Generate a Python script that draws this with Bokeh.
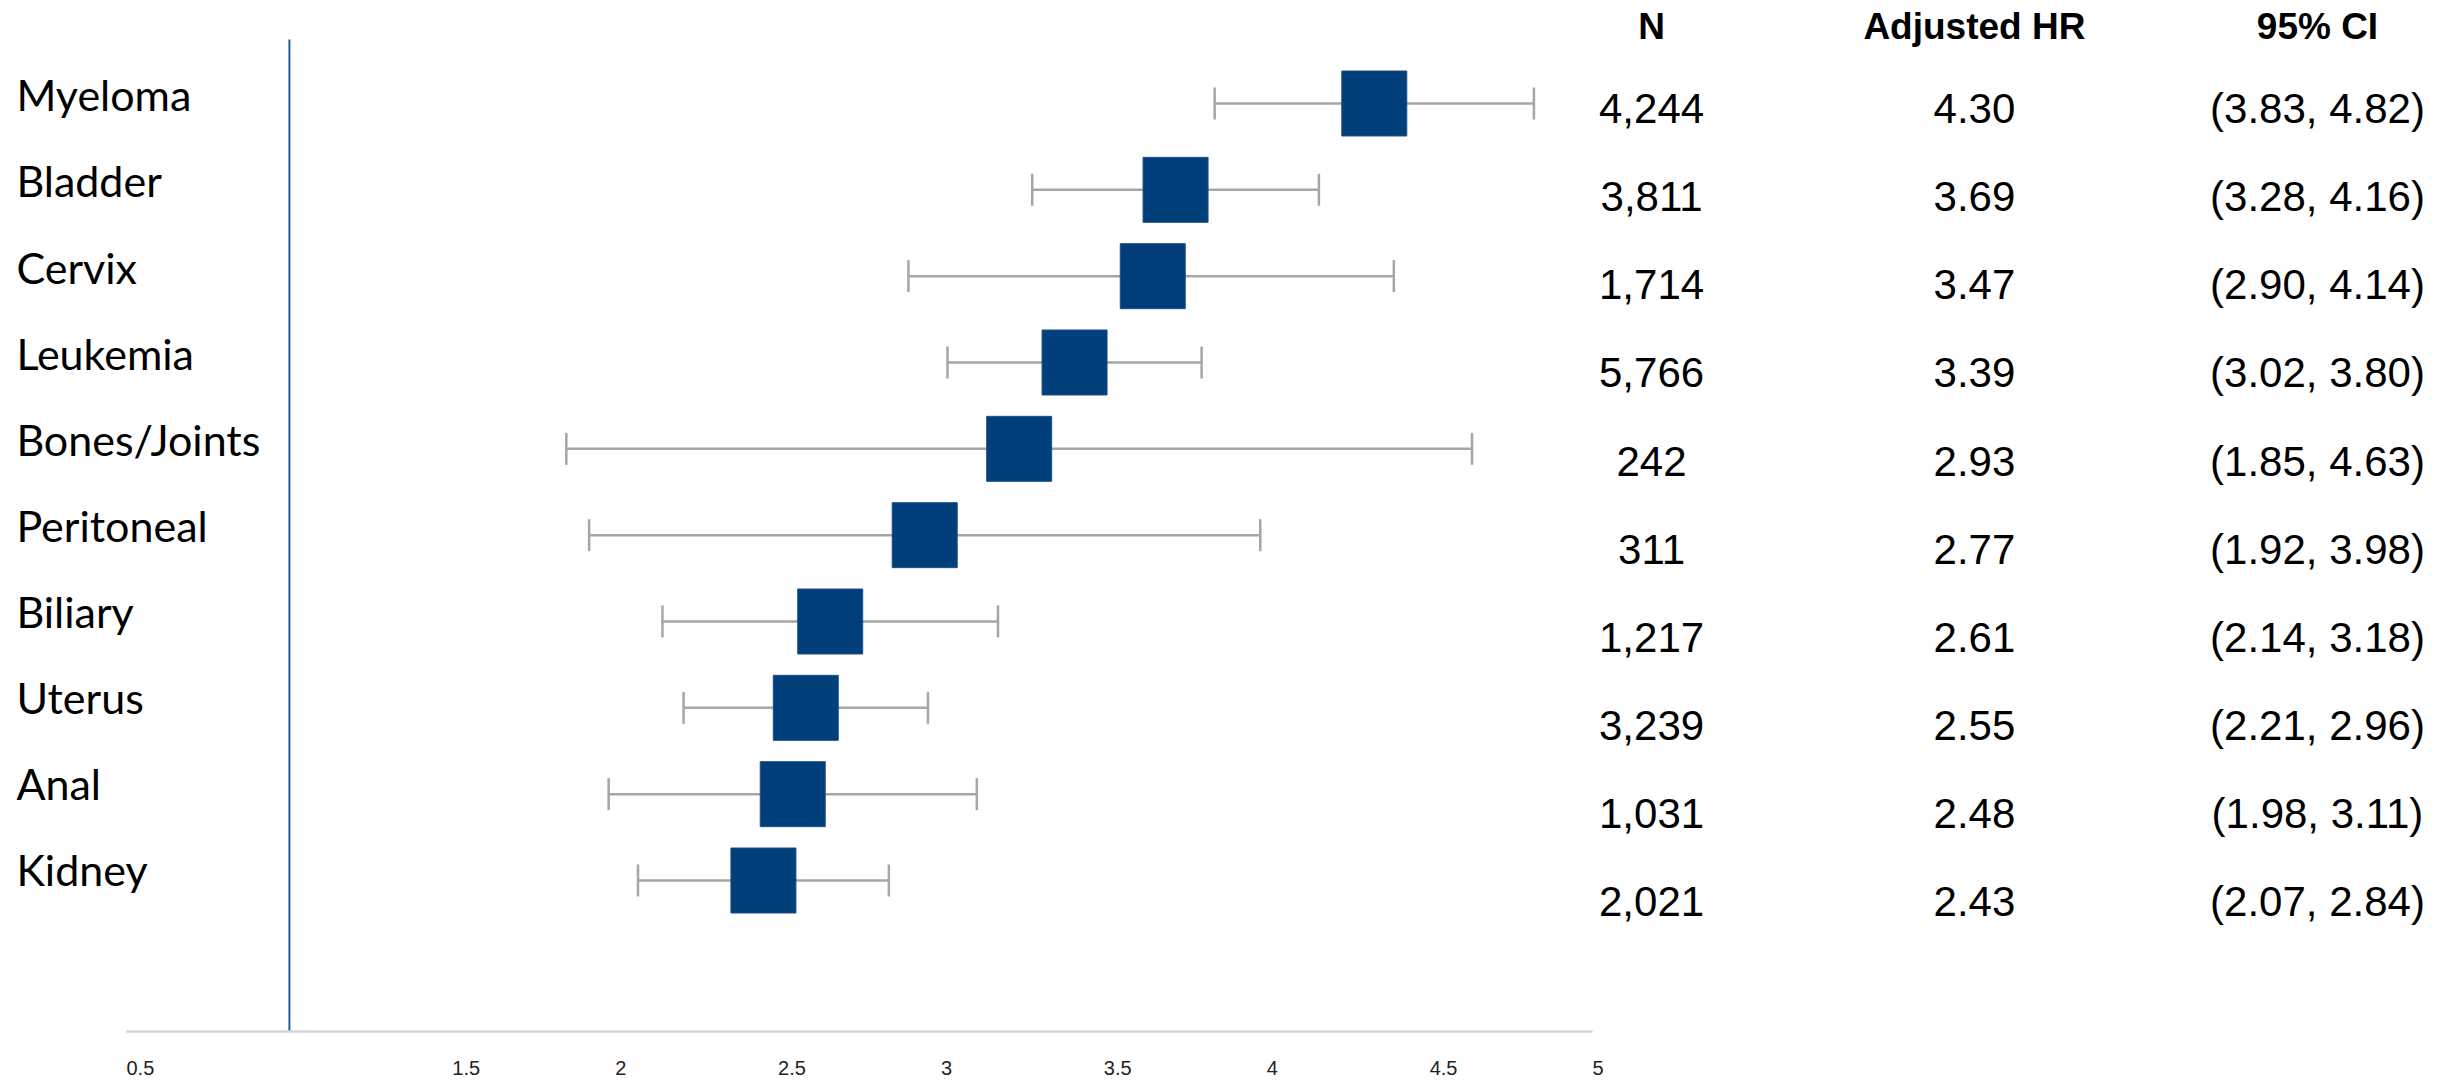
from bokeh.plotting import figure
from bokeh.models import Range1d, FixedTicker, ColumnDataSource
from bokeh.core.properties import value
from bokeh.embed import file_html
from bokeh.resources import INLINE
import numpy as np

# ---- data: table columns (as printed) ----
cancers = ["Myeloma", "Bladder", "Cervix", "Leukemia", "Bones/Joints",
           "Peritoneal", "Biliary", "Uterus", "Anal", "Kidney"]
n_text = ["4,244", "3,811", "1,714", "5,766", "242", "311", "1,217", "3,239", "1,031", "2,021"]
hr_table = [4.30, 3.69, 3.47, 3.39, 2.93, 2.77, 2.61, 2.55, 2.48, 2.43]
ci_lo_table = [3.83, 3.28, 2.90, 3.02, 1.85, 1.92, 2.14, 2.21, 1.98, 2.07]
ci_hi_table = [4.82, 4.16, 4.14, 3.80, 4.63, 3.98, 3.18, 2.96, 3.11, 2.84]

# ---- data: plotted marks ----
plot_est = [4.33, 3.72, 3.65, 3.41, 3.24, 2.95, 2.66, 2.585, 2.545, 2.455]
plot_lo = [3.84, 3.28, 2.90, 3.02, 1.85, 1.92, 2.145, 2.21, 1.98, 2.07]
plot_hi = [4.82, 4.16, 4.39, 3.80, 4.63, 3.98, 3.175, 2.96, 3.11, 2.84]

headers = ["N", "Adjusted HR", "95% CI"]
ticks = [0.5, 1.5, 2, 2.5, 3, 3.5, 4, 4.5, 5]
tick_labels = ["0.5", "1.5", "2", "2.5", "3", "3.5", "4", "4.5", "5"]
ref_line = 1.0

# ---- layout helpers ----
n = len(cancers)
rows = np.arange(n)
hr_text = [f"{h:.2f}" for h in hr_table]
ci_text = [f"({l:.2f}, {h:.2f})" for l, h in zip(ci_lo_table, ci_hi_table)]
label_y = rows * 0.997 - 0.10
value_y = rows * 1.021 + 0.058
header_y = -0.892
label_x = 0.162
col_x = [5.181, 6.172, 7.225]

src = ColumnDataSource(dict(y=rows, est=plot_est, lo=plot_lo, hi=plot_hi, name=cancers,
                            label_y=label_y, value_y=value_y,
                            n_text=n_text, hr_text=hr_text, ci_text=ci_text))

p = figure(frame_width=2448, frame_height=1031,
           x_range=Range1d(0.11326, 7.6272), y_range=Range1d(10.749, -1.193),
           output_backend="svg", toolbar_location=None, min_border=0,
           y_axis_location=None, background_fill_color="white")
p.outline_line_color = None
p.xgrid.visible = False
p.ygrid.visible = False


def left_pad(s):
    # axis labels are centred on ticks; pad with no-break spaces so the
    # visible text starts at the tick (Liberation Sans: digit = 2 spaces)
    k = sum(2 if c.isdigit() else 1 for c in s)
    return "\u00a0" * k + s


ax = p.xaxis[0]
ax.ticker = FixedTicker(ticks=ticks, minor_ticks=[])
ax.major_label_overrides = {t: left_pad(l) for t, l in zip(ticks, tick_labels)}
ax.bounds = (ticks[0], ticks[-1])
ax.axis_line_color = "#d4d4d4"
ax.axis_line_width = 2.5
ax.major_tick_out = 0
ax.major_tick_in = 0
ax.minor_tick_out = 0
ax.minor_tick_in = 0
ax.major_label_text_font = "Liberation Sans"
ax.major_label_text_font_size = "20px"
ax.major_label_text_color = "#222222"
ax.major_label_standoff = 25

# reference line at HR = 1
p.segment(x0=[ref_line], y0=[-0.741], x1=[ref_line], y1=[10.749],
          line_color="#2c5d92", line_width=2)

# CI lines and caps
p.segment(x0="lo", y0="y", x1="hi", y1="y", source=src,
          line_color="#a6a6a6", line_width=2.5)
p.scatter(x="lo", y="y", source=src, marker="dash", angle=np.pi / 2, size=32,
          line_color="#a6a6a6", line_width=2.5)
p.scatter(x="hi", y="y", source=src, marker="dash", angle=np.pi / 2, size=32,
          line_color="#a6a6a6", line_width=2.5)

# estimate squares
p.rect(x="est", y="y", width=65, height=65, width_units="screen", height_units="screen",
       source=src, fill_color="#003f7a", line_color="#1f4f85", line_width=1)

# row labels
p.text(x=label_x, y="label_y", text="name", source=src,
       text_font=value("Lato"), text_font_size="43px", text_color="#000000",
       text_align="left", text_baseline="alphabetic")

# table columns
for cx, col in zip(col_x, ["n_text", "hr_text", "ci_text"]):
    p.text(x=cx, y="value_y", text=col, source=src,
           text_font=value("Liberation Sans"), text_font_size="42px",
           text_color="#000000", text_align="center", text_baseline="alphabetic")

p.text(x=col_x, y=[header_y] * 3, text=headers,
       text_font=value("Liberation Sans"), text_font_size="37px",
       text_font_style="bold", text_color="#000000",
       text_align="center", text_baseline="alphabetic")

open("out.html", "w").write(file_html(p, INLINE))
